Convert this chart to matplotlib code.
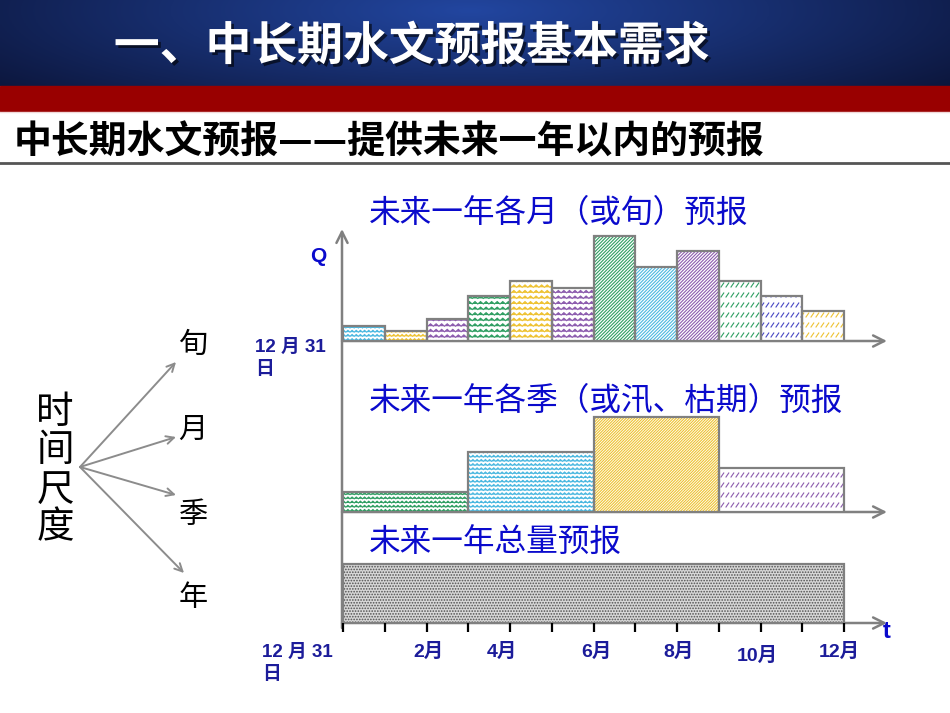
"""Slide: 中长期水文预报基本需求 -- monthly / seasonal / annual forecast sketch."""

import warnings

import numpy as np
import matplotlib
matplotlib.use("Agg")
import matplotlib.pyplot as plt
import matplotlib.patheffects as pe
from matplotlib import hatch as mhatch
from matplotlib.path import Path

warnings.filterwarnings("ignore")

plt.rcParams["font.family"] = ["Noto Sans CJK SC", "DejaVu Sans"]
plt.rcParams["hatch.linewidth"] = 0.8
LATIN = ["Liberation Sans", "Noto Sans CJK SC"]

# ---- data ----
monthly_q = [15, 10, 22, 45, 60, 53, 105, 74, 90, 60, 45, 30]
seasonal_q = [20, 60, 95, 44]
season_months = 3
annual_q = 59
n_months = 12
month_labels = ["2月", "4月", "6月", "8月", "10月", "12月"]
month_label_pos = [2.04, 3.80, 6.07, 8.04, 9.93, 11.88]
start_label = "12 月 31\n日"

panel_titles = ["未来一年各月（或旬）预报", "未来一年各季（或汛、枯期）预报", "未来一年总量预报"]
scales = ["旬", "月", "季", "年"]

# ---- styles ----
BLUE = "#4ab8e0"
GOLD = "#eec232"
PURPLE = "#8c5cae"
GREEN = "#2f9e62"
VIOLET = "#4848c4"
monthly_colors = [BLUE, GOLD, PURPLE, GREEN, GOLD, PURPLE, GREEN, BLUE, PURPLE, GREEN, VIOLET, GOLD]
monthly_hatch = ["^^^^", "^^^^", "^^^", "^^^", "^^^", "^^^",
                 "/" * 10, "/" * 10, "/" * 10, "=", "=", "="]
seasonal_colors = [GREEN, BLUE, GOLD, PURPLE]
seasonal_hatch = ["^^^^", "^^^^", "/" * 12, "="]
EDGE = "#808080"
TXT_BLUE = "#0a0acc"
LBL_BLUE = "#1c1c9a"


# custom hatches: '^' zigzag rows (wave-like), '=' rows of short slashes
class ZigzagHatch(mhatch.HatchPatternBase):
    def __init__(self, hatch, density):
        self.num_rows = hatch.count("^") * density
        self.teeth = self.num_rows
        self.num_vertices = self.num_rows * (2 * self.teeth + 1)

    def set_vertices_and_codes(self, vertices, codes):
        n = 2 * self.teeth + 1
        xs = np.linspace(0, 1, n)
        amp = 0.22 / self.num_rows
        k = 0
        for r in range(self.num_rows):
            y0 = (r + 0.5) / self.num_rows
            for i, x in enumerate(xs):
                vertices[k] = (x, y0 + (amp if i % 2 else -amp))
                codes[k] = Path.LINETO if i else Path.MOVETO
                k += 1


class DashRowHatch(mhatch.HatchPatternBase):
    def __init__(self, hatch, density):
        self.num_rows = int(hatch.count("=") * density * 1.7)
        self.per_row = 2 * self.num_rows
        self.num_vertices = self.num_rows * self.per_row * 2

    def set_vertices_and_codes(self, vertices, codes):
        dx = 0.55 / self.per_row
        dy = 0.4 / self.num_rows
        k = 0
        for r in range(self.num_rows):
            y0 = (r + 0.3) / self.num_rows
            for j in range(self.per_row):
                x0 = (j + 0.2) / self.per_row
                vertices[k] = (x0, y0)
                vertices[k + 1] = (x0 + dx, y0 + dy)
                codes[k] = Path.MOVETO
                codes[k + 1] = Path.LINETO
                k += 2


mhatch._hatch_types.append(ZigzagHatch)
mhatch._hatch_types.append(DashRowHatch)

W, H = 950, 713
X0, X_END, PX_PER_MONTH = 343, 890, 41.75

fig = plt.figure(figsize=(W / 100, H / 100), dpi=100)
fig.patch.set_facecolor("white")

bg = fig.add_axes([0, 0, 1, 1])
bg.axis("off")

# header gradient + red band
gx, gy = np.meshgrid(np.linspace(0, W, 400), np.linspace(0, 86, 60))
t = np.clip(np.sqrt(((gx - 470) / 600) ** 2 + ((gy - 10) / 130) ** 2), 0, 1)
c_in = np.array([0x22, 0x46, 0xa0]) / 255
c_out = np.array([0x0c, 0x16, 0x3c]) / 255
grad = c_in[None, None, :] * (1 - t[..., None]) + c_out[None, None, :] * t[..., None]
bg.imshow(grad, extent=[0, W, 86, 0], aspect="auto", zorder=0)
bg.add_patch(plt.Rectangle((0, 86), W, 25, color="#990000", zorder=1))
bg.plot([0, W], [112, 112], color="#f0d8d8", lw=1, zorder=1)
bg.set_xlim(0, W)
bg.set_ylim(H, 0)

bg.text(412, 47, "一、中长期水文预报基本需求", color="white", fontsize=33,
        fontweight="bold", ha="center", va="center", zorder=3,
        path_effects=[pe.withSimplePatchShadow(offset=(2, -2), shadow_rgbFace="black", alpha=0.6)])
bg.text(14, 142, "中长期水文预报——提供未来一年以内的预报", color="black", fontsize=27.3,
        fontweight="bold", ha="left", va="center")
bg.plot([0, W], [163, 163], color="#555555", lw=2)

# left: time-scale tree
for ch, y in zip("时间尺度", [413, 451, 490, 528]):
    bg.text(55, y, ch, fontsize=27, ha="center", va="center", color="black")
for ch, y, tip in zip(scales, [345, 430, 515, 598],
                      [(176, 362), (176, 437), (176, 495), (184, 573)]):
    bg.text(193, y, ch, fontsize=21, ha="center", va="center", color="black")
    bg.annotate("", xy=tip, xytext=(80, 467),
                arrowprops=dict(arrowstyle="->", color="#8c8c8c", lw=1.4,
                                mutation_scale=14, shrinkA=0, shrinkB=0))

# axes lines (slide drawing)
arrow_kw = dict(arrowstyle="->", color=EDGE, lw=1.8, mutation_scale=20, shrinkA=0, shrinkB=0)
bg.annotate("", xy=(342, 229), xytext=(342, 628), arrowprops=arrow_kw)
for yb in [341, 512, 623]:
    bg.annotate("", xy=(887, yb), xytext=(342, yb), arrowprops=arrow_kw)

bg.text(318, 256, "Q", color=TXT_BLUE, fontsize=15, fontweight="bold",
        ha="center", va="center", family=LATIN)
bg.text(887, 631, "t", color=TXT_BLUE, fontsize=17, fontweight="bold",
        ha="center", va="center", family=LATIN)
for xx, yy in [(255, 339), (262, 644)]:
    bg.text(xx, yy, start_label, color=LBL_BLUE, fontsize=13.5,
            fontweight="bold", ha="left", va="top", family=LATIN, linespacing=1.4)

for title, (tx, ty) in zip(panel_titles, [(369, 213), (369, 401), (369, 543)]):
    bg.text(tx, ty, title, color=TXT_BLUE, fontsize=22.8, fontweight="medium",
            ha="left", va="center")


def panel(base_px, top_px):
    ax = fig.add_axes([X0 / W, 1 - base_px / H, (X_END - X0) / W, (base_px - top_px) / H])
    ax.set_xlim(0, (X_END - X0) / PX_PER_MONTH)
    ax.set_ylim(0, base_px - top_px)
    ax.patch.set_visible(False)
    for s in ax.spines.values():
        s.set_visible(False)
    ax.set_yticks([])
    ax.set_xticks([])
    return ax


def hatched_bars(ax, lefts, heights, width, colors, hatches, face="white"):
    for x, h, c, hp in zip(lefts, heights, colors, hatches):
        ax.bar(x, h, width=width, align="edge", facecolor=face, edgecolor=c,
               hatch=hp, lw=0, zorder=2)
        ax.bar(x, h, width=width, align="edge", fill=False, edgecolor=EDGE,
               lw=1.6, zorder=3)


ax1 = panel(341, 229)
hatched_bars(ax1, np.arange(n_months), monthly_q, 1, monthly_colors, monthly_hatch)

ax2 = panel(512, 412)
hatched_bars(ax2, np.arange(len(seasonal_q)) * season_months, seasonal_q, season_months,
             seasonal_colors, seasonal_hatch)

ax3 = panel(623, 560)
hatched_bars(ax3, [0], [annual_q], n_months, ["#505050"], ["......"], face="#d8d8d8")
ax3.set_xticks(np.arange(n_months + 1))
ax3.tick_params(axis="x", direction="out", length=6.5, width=1.6, color="black",
                labelbottom=False, pad=0)
for lab, pos in zip(month_labels, month_label_pos):
    ax3.text(pos, -29 if lab != "10月" else -33, lab, color=LBL_BLUE, fontsize=14,
             fontweight="bold", ha="center", va="center", family=LATIN, clip_on=False)

fig.savefig("out.png", dpi=100, facecolor="white")
